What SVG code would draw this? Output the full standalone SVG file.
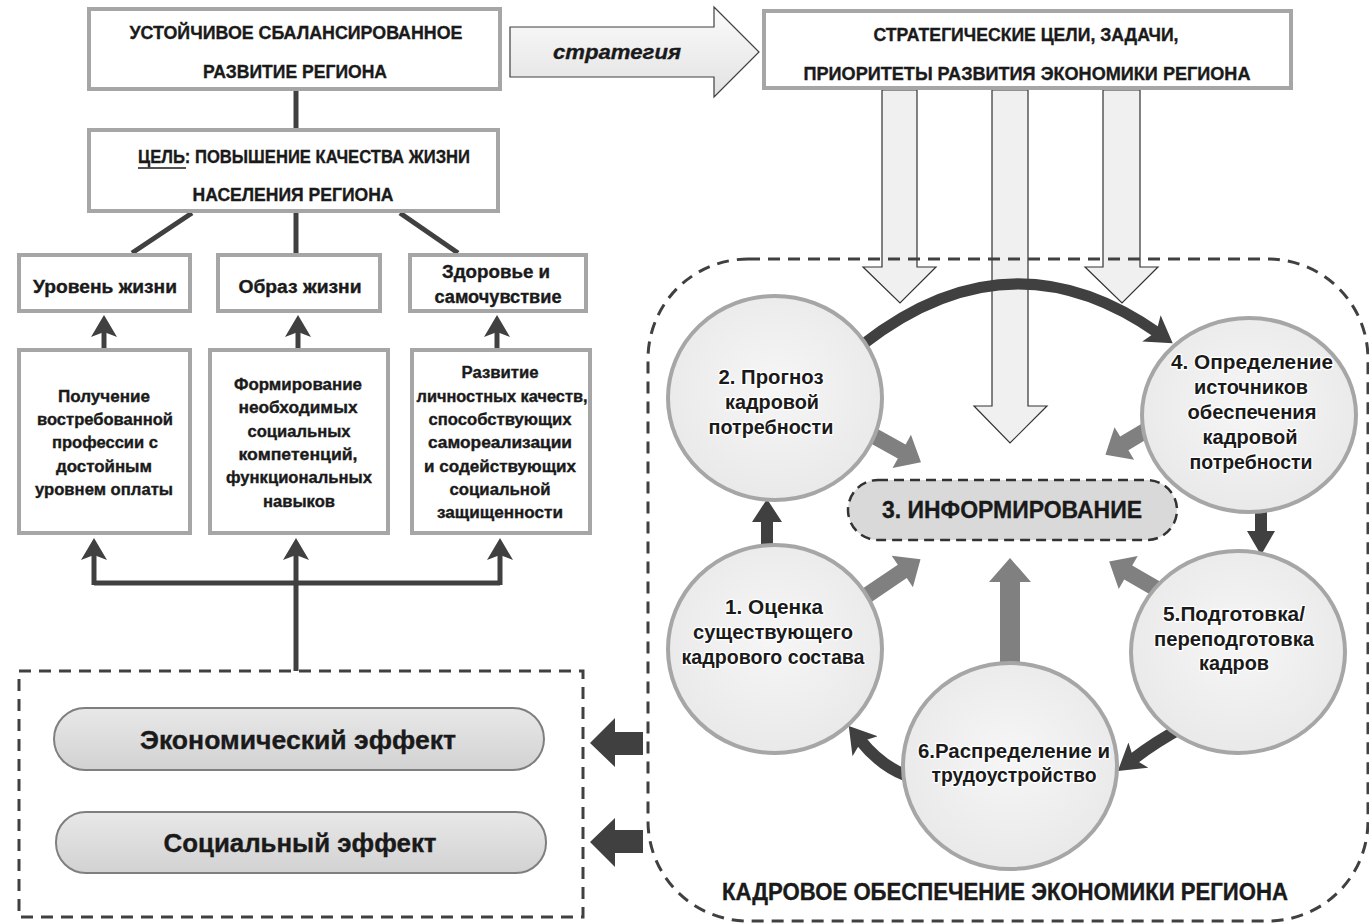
<svg xmlns="http://www.w3.org/2000/svg" width="1369" height="924" viewBox="0 0 1369 924">
<defs>
<style>
.t{font-family:"Liberation Sans",Arial,sans-serif;font-weight:bold;fill:#1a1a1a;text-anchor:middle;stroke:#1a1a1a;stroke-width:0.35}
.box{fill:#fff;stroke:#a6a6a6;stroke-width:4}
.conn{fill:none;stroke:#404040;stroke-width:5}
.dk{fill:#404040}
.gr{fill:#808080}
.down{fill:#f0f0f0;stroke:#333;stroke-width:1.2}
.circ{fill:url(#cg);stroke:#a6a6a6;stroke-width:4}
.ct{font-size:20px;stroke:#fff;stroke-width:2.5;paint-order:stroke;stroke-linejoin:round}
.pill{fill:url(#pg);stroke:#7f7f7f;stroke-width:2}
.dash{fill:none;stroke:#404040;stroke-width:3;stroke-dasharray:12 8}
</style>
<radialGradient id="cg" cx="0.5" cy="0.45" r="0.6"><stop offset="0" stop-color="#f6f6f6"/><stop offset="1" stop-color="#e8e8e8"/></radialGradient>
<linearGradient id="pg" x1="0" y1="0" x2="0" y2="1"><stop offset="0" stop-color="#e8e8e8"/><stop offset="1" stop-color="#d2d2d2"/></linearGradient>
<linearGradient id="sg" x1="0" y1="0" x2="0" y2="1"><stop offset="0" stop-color="#fbfbfb"/><stop offset="1" stop-color="#e2e2e2"/></linearGradient>
<marker id="ah" viewBox="0 0 22 26" refX="12" refY="13" markerWidth="22" markerHeight="26" markerUnits="userSpaceOnUse" orient="auto"><path d="M0,0 L22,13 L0,26 L5,13 Z" fill="#404040"/></marker>
<marker id="ch" viewBox="0 0 26 32" refX="8" refY="16" markerWidth="26" markerHeight="32" markerUnits="userSpaceOnUse" orient="auto"><path d="M0,0 L26,16 L0,32 L6,16 Z" fill="#404040"/></marker>
</defs>
<rect width="1369" height="924" fill="#fff"/>

<g id="strategy-arrow">
<path d="M510,27 H714 V7 L759,52 L714,97 V77 H510 Z" fill="url(#sg)" stroke="#404040" stroke-width="1.2"/>
<text class="t" x="617" y="59" font-size="21" font-style="italic" textLength="128" lengthAdjust="spacingAndGlyphs">стратегия</text>
</g>

<g id="down-arrows">
<path class="down" d="M882,90 H917 V267 H936 L900,303 L863,267 H882 Z"/>
<path class="down" d="M992,90 H1028 V406 H1047 L1010,443 L974,406 H992 Z"/>
<path class="down" d="M1103,90 H1140 V267 H1158 L1122,303 L1085,267 H1103 Z"/>
</g>

<g id="staffing-region">
<rect x="648" y="259" width="720" height="662" rx="100" class="dash"/>
<text class="t" x="1005" y="900" font-size="23" font-weight="900" fill="#000" stroke="#000" stroke-width="0.9" textLength="566" lengthAdjust="spacingAndGlyphs">КАДРОВОЕ ОБЕСПЕЧЕНИЕ ЭКОНОМИКИ РЕГИОНА</text>
</g>

<g id="connectors">
<path class="conn" d="M296,91 V128"/>
<path class="conn" d="M192,213 L132,253"/>
<path class="conn" d="M296,213 V253"/>
<path class="conn" d="M400,213 L458,253"/>
<path class="conn" d="M104,348 V325" marker-end="url(#ah)"/>
<path class="conn" d="M298,348 V325" marker-end="url(#ah)"/>
<path class="conn" d="M497,348 V325" marker-end="url(#ah)"/>
<path class="conn" d="M94,583 H500"/>
<path class="conn" d="M94,585 V548" marker-end="url(#ah)"/>
<path class="conn" d="M500,585 V548" marker-end="url(#ah)"/>
<path class="conn" d="M296,671 V548" marker-end="url(#ah)"/>
<path class="dk" d="M643,732 H615 V718 L590,743 L615,767 V755 H643 Z"/>
<path class="dk" d="M643,830 H615 V818 L590,842 L615,867 V853 H643 Z"/>
<path class="gr" transform="translate(872,435) rotate(29)" d="M0,-8 H34 V-19 L56,0 L34,19 V8 H0 Z"/>
<path class="gr" transform="translate(1150,428) rotate(149)" d="M0,-8 H30 V-19 L52,0 L30,19 V8 H0 Z"/>
<path class="gr" transform="translate(860,600) rotate(-34)" d="M0,-8 H51 V-19 L73,0 L51,19 V8 H0 Z"/>
<path class="gr" transform="translate(1162,592) rotate(210)" d="M0,-8 H39 V-19 L61,0 L39,19 V8 H0 Z"/>
<path class="gr" transform="translate(1010,668) rotate(-90)" d="M0,-10 H86 V-21 L110,0 L86,21 V10 H0 Z"/>
<path class="dk" d="M761,550 V522 H752 L767,499 L782,522 H773 V550 Z"/>
<path class="dk" d="M1255,508 V531 H1247 L1261,555 L1275,531 H1267 V508 Z"/>
<path d="M862,345 Q1010,229 1158,333" fill="none" stroke="#404040" stroke-width="11" marker-end="url(#ch)"/>
<path d="M1185,726 Q1155,742 1132,760" fill="none" stroke="#404040" stroke-width="12" marker-end="url(#ch)"/>
<path d="M905,775 Q880,765 860,740" fill="none" stroke="#404040" stroke-width="12" marker-end="url(#ch)"/>
</g>

<g id="node-sustainable">
<rect class="box" x="89" y="9" width="411" height="80"/>
<text class="t" x="296" y="39" font-size="19" textLength="333" lengthAdjust="spacingAndGlyphs">УСТОЙЧИВОЕ СБАЛАНСИРОВАННОЕ</text>
<text class="t" x="295" y="78" font-size="19" textLength="184" lengthAdjust="spacingAndGlyphs">РАЗВИТИЕ РЕГИОНА</text>
</g>

<g id="node-goal">
<rect class="box" x="89" y="130" width="409" height="81"/>
<text class="t" x="304" y="163" font-size="19" textLength="332" lengthAdjust="spacingAndGlyphs">ЦЕЛЬ: ПОВЫШЕНИЕ КАЧЕСТВА ЖИЗНИ</text>
<line x1="138" y1="168" x2="186" y2="168" stroke="#1a1a1a" stroke-width="1.5"/>
<text class="t" x="293" y="201" font-size="19" textLength="201" lengthAdjust="spacingAndGlyphs">НАСЕЛЕНИЯ РЕГИОНА</text>
</g>

<g id="node-strategic-goals">
<rect class="box" x="764" y="11" width="527" height="77"/>
<text class="t" x="1026" y="41" font-size="18" textLength="305" lengthAdjust="spacingAndGlyphs">СТРАТЕГИЧЕСКИЕ ЦЕЛИ, ЗАДАЧИ,</text>
<text class="t" x="1027" y="80" font-size="18" textLength="447" lengthAdjust="spacingAndGlyphs">ПРИОРИТЕТЫ РАЗВИТИЯ ЭКОНОМИКИ РЕГИОНА</text>
</g>

<g id="node-living-standard">
<rect class="box" x="19" y="255" width="171" height="56"/>
<text class="t" x="105" y="293" font-size="18" textLength="144" lengthAdjust="spacingAndGlyphs">Уровень жизни</text>
</g>
<g id="node-lifestyle">
<rect class="box" x="218" y="255" width="162" height="56"/>
<text class="t" x="300" y="293" font-size="18" textLength="123" lengthAdjust="spacingAndGlyphs">Образ жизни</text>
</g>
<g id="node-health">
<rect class="box" x="410" y="255" width="176" height="56"/>
<text class="t" x="496" y="278" font-size="18" textLength="108" lengthAdjust="spacingAndGlyphs">Здоровье и</text>
<text class="t" x="498" y="303" font-size="18" textLength="127" lengthAdjust="spacingAndGlyphs">самочувствие</text>
</g>

<g id="node-profession">
<rect class="box" x="19" y="350" width="171" height="183"/>
<g font-size="16">
<text class="t" x="104" y="402" textLength="92" lengthAdjust="spacingAndGlyphs">Получение</text>
<text class="t" x="105" y="425" textLength="136" lengthAdjust="spacingAndGlyphs">востребованной</text>
<text class="t" x="105" y="448" textLength="106" lengthAdjust="spacingAndGlyphs">профессии с</text>
<text class="t" x="104" y="472" textLength="96" lengthAdjust="spacingAndGlyphs">достойным</text>
<text class="t" x="104" y="495" textLength="138" lengthAdjust="spacingAndGlyphs">уровнем оплаты</text>
</g>
</g>
<g id="node-competencies">
<rect class="box" x="210" y="350" width="178" height="183"/>
<g font-size="16">
<text class="t" x="298" y="390" textLength="128" lengthAdjust="spacingAndGlyphs">Формирование</text>
<text class="t" x="298" y="413" textLength="119" lengthAdjust="spacingAndGlyphs">необходимых</text>
<text class="t" x="299" y="437" textLength="103" lengthAdjust="spacingAndGlyphs">социальных</text>
<text class="t" x="298" y="460" textLength="119" lengthAdjust="spacingAndGlyphs">компетенций,</text>
<text class="t" x="299" y="483" textLength="146" lengthAdjust="spacingAndGlyphs">функциональных</text>
<text class="t" x="299" y="507" textLength="72" lengthAdjust="spacingAndGlyphs">навыков</text>
</g>
</g>
<g id="node-personal">
<rect class="box" x="412" y="350" width="178" height="183"/>
<g font-size="16">
<text class="t" x="500" y="378" textLength="77" lengthAdjust="spacingAndGlyphs">Развитие</text>
<text class="t" x="502" y="402" textLength="171" lengthAdjust="spacingAndGlyphs">личностных качеств,</text>
<text class="t" x="500" y="425" textLength="143" lengthAdjust="spacingAndGlyphs">способствующих</text>
<text class="t" x="500" y="448" textLength="144" lengthAdjust="spacingAndGlyphs">самореализации</text>
<text class="t" x="500" y="472" textLength="152" lengthAdjust="spacingAndGlyphs">и содействующих</text>
<text class="t" x="500" y="495" textLength="101" lengthAdjust="spacingAndGlyphs">социальной</text>
<text class="t" x="500" y="518" textLength="126" lengthAdjust="spacingAndGlyphs">защищенности</text>
</g>
</g>

<g id="node-effects">
<rect class="dash" x="19" y="671" width="564" height="246"/>
<rect class="pill" x="54" y="708" width="490" height="62" rx="31"/>
<text class="t" x="298" y="749" font-size="26" textLength="316" lengthAdjust="spacingAndGlyphs">Экономический эффект</text>
<rect class="pill" x="56" y="812" width="490" height="61" rx="30"/>
<text class="t" x="300" y="852" font-size="26" textLength="273" lengthAdjust="spacingAndGlyphs">Социальный эффект</text>
</g>

<g id="node-informing">
<rect x="848" y="480" width="329" height="60" rx="30" fill="#d9d9d9" stroke="#333" stroke-width="2.5" stroke-dasharray="10 6"/>
<text class="t" x="1012" y="518" font-size="24" textLength="260" lengthAdjust="spacingAndGlyphs">3. ИНФОРМИРОВАНИЕ</text>
</g>

<g id="node-forecast">
<ellipse class="circ" cx="775" cy="398" rx="107" ry="102"/>
<text class="t ct" x="771" y="384" textLength="105" lengthAdjust="spacingAndGlyphs">2. Прогноз</text>
<text class="t ct" x="772" y="409" textLength="94" lengthAdjust="spacingAndGlyphs">кадровой</text>
<text class="t ct" x="771" y="434" textLength="125" lengthAdjust="spacingAndGlyphs">потребности</text>
</g>
<g id="node-sources">
<ellipse class="circ" cx="1249" cy="415" rx="107" ry="97"/>
<text class="t ct" x="1252" y="369" textLength="162" lengthAdjust="spacingAndGlyphs">4. Определение</text>
<text class="t ct" x="1251" y="394" textLength="114" lengthAdjust="spacingAndGlyphs">источников</text>
<text class="t ct" x="1252" y="419" textLength="129" lengthAdjust="spacingAndGlyphs">обеспечения</text>
<text class="t ct" x="1250" y="444" textLength="95" lengthAdjust="spacingAndGlyphs">кадровой</text>
<text class="t ct" x="1251" y="469" textLength="123" lengthAdjust="spacingAndGlyphs">потребности</text>
</g>
<g id="node-assessment">
<ellipse class="circ" cx="775" cy="649" rx="107" ry="104"/>
<text class="t ct" x="774" y="614" textLength="98" lengthAdjust="spacingAndGlyphs">1. Оценка</text>
<text class="t ct" x="773" y="639" textLength="160" lengthAdjust="spacingAndGlyphs">существующего</text>
<text class="t ct" x="773" y="664" textLength="183" lengthAdjust="spacingAndGlyphs">кадрового состава</text>
</g>
<g id="node-training">
<ellipse class="circ" cx="1238" cy="652" rx="107" ry="101"/>
<text class="t ct" x="1234" y="621" textLength="142" lengthAdjust="spacingAndGlyphs">5.Подготовка/</text>
<text class="t ct" x="1234" y="646" textLength="160" lengthAdjust="spacingAndGlyphs">переподготовка</text>
<text class="t ct" x="1234" y="670" textLength="70" lengthAdjust="spacingAndGlyphs">кадров</text>
</g>
<g id="node-distribution">
<ellipse class="circ" cx="1010" cy="766" rx="107" ry="103"/>
<text class="t ct" x="1014" y="758" textLength="192" lengthAdjust="spacingAndGlyphs">6.Распределение и</text>
<text class="t ct" x="1014" y="782" textLength="165" lengthAdjust="spacingAndGlyphs">трудоустройство</text>
</g>
</svg>
